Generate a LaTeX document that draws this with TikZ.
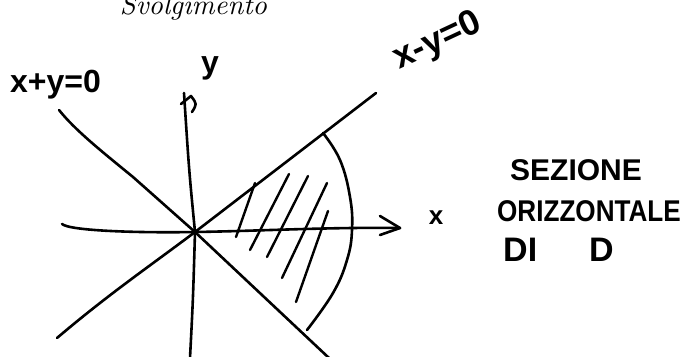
\documentclass[tikz,border=0pt]{standalone}
\usepackage{fontspec}
\newfontfamily\hand{Liberation Sans}
\newcommand\hsz[1]{\hand\bfseries\fontsize{#1}{#1}\selectfont}
\begin{document}
\begin{tikzpicture}[x=1pt,y=-1pt,
  stroke/.style={line width=2.6pt,line cap=round,line join=round},
  hatch/.style={line width=2.4pt,line cap=round},
  hw/.style={inner sep=0pt}]
\useasboundingbox (0,0) rectangle (695,356);
% title
\node[inner sep=0pt,anchor=base] (title) at (193.5,15) {\resizebox{147pt}{!}{\itshape Svolgimento}};
% key points
\coordinate (O) at (195,232);
\coordinate (xl) at (62,224);
\coordinate (xr) at (400,228);
\coordinate (ybot) at (190,358);
\coordinate (ytop) at (184,93);
\coordinate (L1a) at (59,110);
\coordinate (L1b) at (329,358);
\coordinate (L2a) at (57,338);
\coordinate (L2b) at (376,93);
\coordinate (A) at (323,133);
\coordinate (B) at (307,330);
% x axis
\draw[stroke] (xl) .. controls (70,231) and (140,233) .. (O) .. controls (260,231) and (330,227) .. (xr);
\draw[stroke] (380,216) .. controls (390,222) .. (xr) .. controls (390,231) .. (380,235);
% y axis
\draw[stroke] (ybot) .. controls (193,300) .. (O) .. controls (189,170) .. (ytop);
\draw[stroke] (181,104) -- (191,96) .. controls (197,104) .. (192,112);
% x+y=0
\draw[stroke] (L1a) .. controls (75,130) and (100,150) .. (133,177) -- (O) -- (L1b);
% x-y=0
\draw[stroke] (L2a) .. controls (110,293) and (150,266) .. (O) -- (L2b);
% arc
\draw[stroke] plot[smooth,tension=0.7] coordinates {(A) (340,160) (350,197) (352,230) (347,260) (333,293) (B)};
% hatching
\draw[hatch] (255,183) -- (236,237);
\draw[hatch] (289,174) -- (250,250);
\draw[hatch] (308,176) -- (267,257);
\draw[hatch] (327,183) -- (282,278);
\draw[hatch] (328,211) -- (296,302);
% labels
\node[hw,anchor=base west,font=\hsz{32}] (lab1) at (10,92) {x+y=0};
\node[hw,anchor=center,rotate=25,font=\hsz{36}] (lab2) at (438,42) {x-y=0};
\node[hw,anchor=base,font=\hsz{32}] (ylab) at (210,73) {y};
\node[hw,anchor=center,font=\hsz{26}] (xlab) at (436,218) {x};
\node[hw,anchor=base west,font=\hsz{30}] (t1) at (510,180) {SEZIONE};
\node[hw,anchor=base west,xscale=0.87,font=\hsz{30}] (t2) at (497,221) {ORIZZONTALE};
\node[hw,anchor=base west,font=\hsz{34}] (t3) at (503,261) {DI\hspace{52pt}D};
\end{tikzpicture}
\end{document}
